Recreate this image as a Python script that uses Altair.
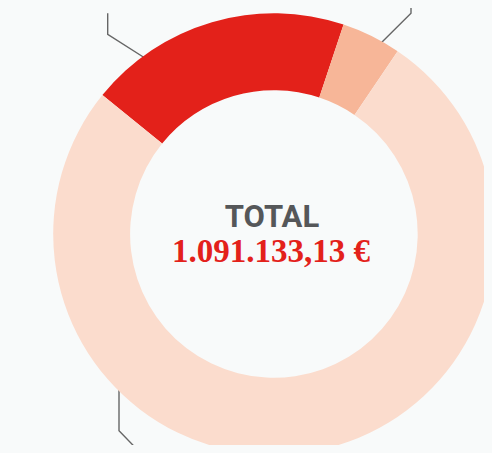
import math
import altair as alt
import pandas as pd

# Data
categories = ["Rojo", "Salmón", "Claro"]
values = [210345.0, 47585.0, 833203.13]
colors = ["#e3211a", "#f7b698", "#fbdccd"]
order = [0, 1, 2]

total_label = "TOTAL"
total_value = "1.091.133,13 €"

# Leader lines (pixel coordinates in the view)
line_id = ["a", "a", "a", "b", "b", "b", "c", "c", "c"]
line_seq = [0, 1, 2, 0, 1, 2, 0, 1, 2]
line_x = [99.7, 99.7, 140.0, 403.0, 403.0, 368.0, 111.0, 111.0, 150.0]
line_y = [5.3, 26.3, 52.0, -13.0, 5.3, 40.0, 375.0, 422.7, 463.0]

W, H = 476, 437
CX, CY = 265.9, 226.0
start = math.radians(-51.0)
BG = "#f8fafa"

arc_df = pd.DataFrame({"cat": categories, "value": values, "order": order})
line_df = pd.DataFrame({"id": line_id, "seq": line_seq, "x": line_x, "y": line_y})

xs = alt.Scale(domain=[0, W], range=[0, W], nice=False, zero=False)
ys = alt.Scale(domain=[0, H], range=[0, H], nice=False, zero=False)

lines = alt.Chart(line_df).mark_line(color="#666666", strokeWidth=1.4, clip=False).encode(
    x=alt.X("x:Q", scale=xs, axis=None),
    y=alt.Y("y:Q", scale=ys, axis=None),
    detail="id:N",
    order="seq:Q",
)

arc = alt.Chart(arc_df).mark_arc(innerRadius=143.8, outerRadius=220.7, x=CX, y=CY).encode(
    theta=alt.Theta("value:Q", stack=True, scale=alt.Scale(range=[start, start + 2 * math.pi])),
    color=alt.Color("cat:N", scale=alt.Scale(domain=categories, range=colors), legend=None),
    order=alt.Order("order:Q"),
)

t1 = alt.Chart(pd.DataFrame({"t": [total_label]})).mark_text(
    font="Roboto", fontWeight="bold", fontSize=31, color="#555759",
    align="center", baseline="alphabetic", x=264, y=219.3,
).encode(text="t:N")

t2 = alt.Chart(pd.DataFrame({"t": [total_value]})).mark_text(
    font="Liberation Serif", fontWeight="bold", fontSize=33, color="#e3211a",
    align="center", baseline="alphabetic", x=263, y=254,
).encode(text="t:N")

chart = alt.layer(lines, arc, t1, t2).properties(
    width=W, height=H, autosize=alt.AutoSizeParams(type="none"), padding=0,
    background=BG,
).configure_view(stroke=None)

TEMPLATE = """<!DOCTYPE html>
<html>
<head>
  <meta charset="utf-8">
  <style>
    html, body { background-color: """ + BG + """; overflow: hidden; }
    #{{ output_div }}.vega-embed { width: 100%; display: flex; }
    #{{ output_div }}.vega-embed details,
    #{{ output_div }}.vega-embed details summary { position: relative; }
    #{{ output_div }} svg { overflow: visible !important; flex-shrink: 0; }
  </style>
  <script type="text/javascript" src="{{ base_url }}/vega@{{ vega_version }}"></script>
  <script type="text/javascript" src="{{ base_url }}/vega-lite@{{ vegalite_version }}"></script>
  <script type="text/javascript" src="{{ base_url }}/vega-embed@{{ vegaembed_version }}"></script>
</head>
<body>
  <div id="{{ output_div }}"></div>
  <script>
    (function(vegaEmbed) {
      var spec = {{ spec }};
      var embedOpt = {{ embed_options }};
      function showError(el, error){
          el.innerHTML = ('<div style="color:red;">'
                          + '<p>JavaScript Error: ' + error.message + '</p>'
                          + '</div>');
          throw error;
      }
      const el = document.getElementById('{{ output_div }}');
      vegaEmbed("#{{ output_div }}", spec, embedOpt)
        .catch(error => showError(el, error));
    })(vegaEmbed);
  </script>
</body>
</html>
"""

try:
    import jinja2
    chart.save("out.html", embed_options={"renderer": "svg", "actions": False},
               template=jinja2.Template(TEMPLATE))
except Exception:
    chart.save("out.html", embed_options={"renderer": "svg", "actions": False})
